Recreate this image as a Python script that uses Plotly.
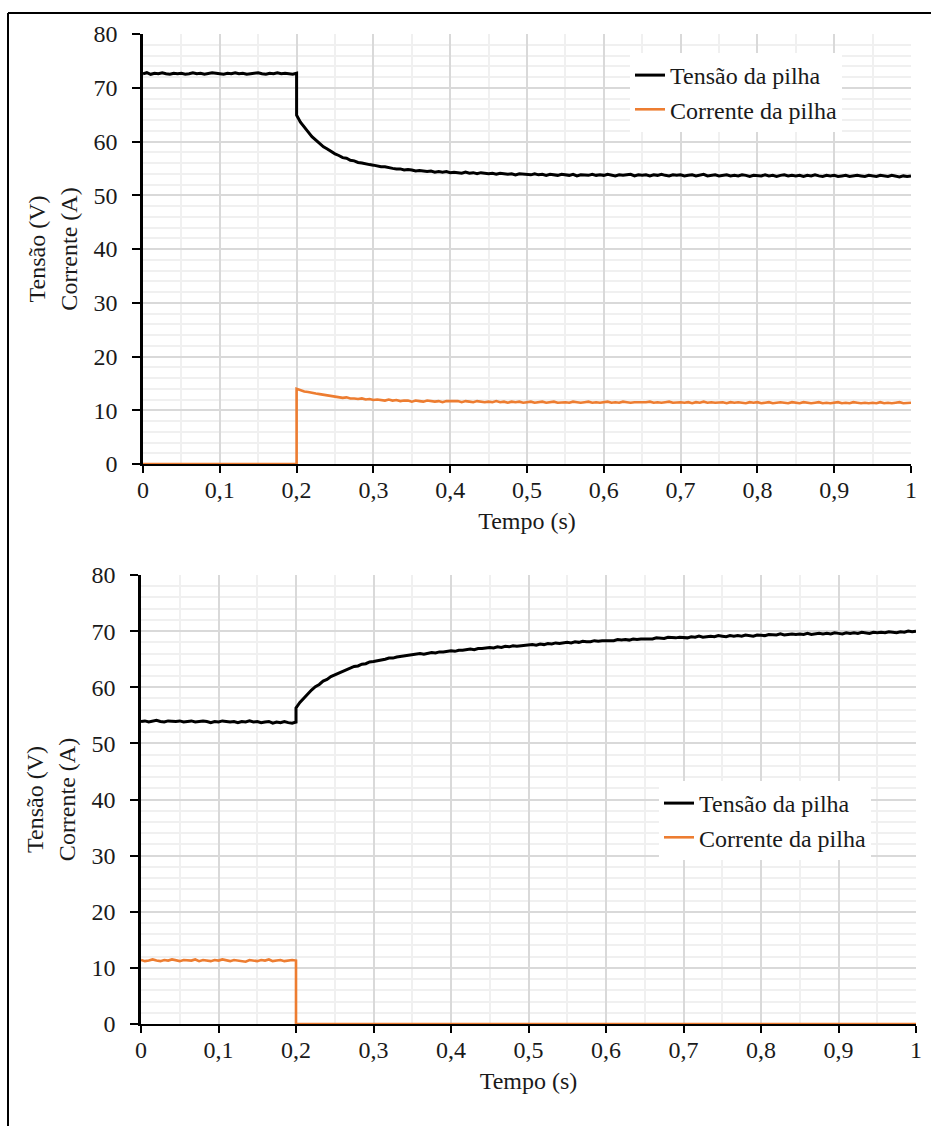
import numpy as np
import plotly.graph_objects as go

# Sampling step of the logged signals (s); the load step happens at t = 0.2 s
SAMPLE_STEP = 0.005
STEP_TIME = 0.2

# ---------------- Load connection (top panel) ----------------
tensao_on_pre = [
    72.6, 72.8, 72.5, 72.7, 72.6, 72.8, 72.6, 72.5, 72.7, 72.6,
    72.7, 72.5, 72.6, 72.8, 72.6, 72.7, 72.5, 72.6, 72.8, 72.7,
    72.6, 72.5, 72.7, 72.6, 72.8, 72.6, 72.7, 72.5, 72.6, 72.7,
    72.8, 72.6, 72.5, 72.7, 72.6, 72.8, 72.6, 72.7, 72.6, 72.5,
    72.7,
]
tensao_on_post = [
    64.9, 63.6, 62.6, 61.8, 60.9, 60.3, 59.6, 59.0, 58.6, 58.1,
    57.7, 57.4, 57.0, 56.9, 56.5, 56.4, 56.1, 56.0, 55.8, 55.7,
    55.6, 55.4, 55.3, 55.3, 55.1, 55.0, 54.9, 54.9, 54.7, 54.8,
    54.7, 54.5, 54.6, 54.5, 54.4, 54.5, 54.3, 54.4, 54.3, 54.4,
    54.2, 54.3, 54.2, 54.1, 54.3, 54.1, 54.2, 54.0, 54.2, 54.1,
    54.0, 54.1, 53.9, 54.1, 54.0, 53.9, 54.0, 53.8, 54.0, 53.9,
    53.9, 53.8, 54.0, 53.8, 53.9, 53.7, 53.9, 53.8, 53.7, 53.9,
    53.8, 53.7, 53.9, 53.6, 53.8, 53.8, 53.7, 53.9, 53.7, 53.8,
    53.7, 53.9, 53.8, 53.6, 53.8, 53.7, 53.8, 53.9, 53.6, 53.8,
    53.7, 53.8, 53.6, 53.8, 53.7, 53.9, 53.7, 53.6, 53.8, 53.7,
    53.8, 53.6, 53.7, 53.8, 53.6, 53.7, 53.9, 53.6, 53.7, 53.8,
    53.6, 53.7, 53.8, 53.6, 53.7, 53.6, 53.8, 53.7, 53.5, 53.7,
    53.7, 53.6, 53.8, 53.6, 53.7, 53.5, 53.7, 53.8, 53.6, 53.7,
    53.6, 53.7, 53.5, 53.7, 53.6, 53.8, 53.6, 53.5, 53.7, 53.6,
    53.7, 53.5, 53.6, 53.7, 53.5, 53.6, 53.7, 53.6, 53.5, 53.7,
    53.6, 53.5, 53.7, 53.6, 53.5, 53.7, 53.6, 53.4, 53.6, 53.5,
    53.6,
]
corrente_on_pre = [0.0] * 41
corrente_on_post = [
    14.0, 13.7, 13.5, 13.4, 13.2, 13.1, 13.0, 12.9, 12.8, 12.7,
    12.5, 12.5, 12.3, 12.4, 12.2, 12.2, 12.1, 12.2, 12.0, 12.1,
    11.9, 12.0, 11.9, 11.8, 12.0, 11.8, 11.9, 11.7, 11.8, 11.8,
    11.6, 11.8, 11.7, 11.6, 11.8, 11.7, 11.6, 11.7, 11.5, 11.7,
    11.7, 11.6, 11.7, 11.5, 11.7, 11.6, 11.5, 11.7, 11.6, 11.5,
    11.6, 11.5, 11.7, 11.5, 11.6, 11.4, 11.6, 11.5, 11.6, 11.4,
    11.5, 11.6, 11.4, 11.5, 11.6, 11.4, 11.5, 11.6, 11.4, 11.5,
    11.5, 11.4, 11.6, 11.5, 11.4, 11.5, 11.6, 11.4, 11.5, 11.4,
    11.5, 11.6, 11.4, 11.5, 11.4, 11.6, 11.5, 11.4, 11.5, 11.5,
    11.4, 11.5, 11.6, 11.4, 11.5, 11.4, 11.5, 11.6, 11.4, 11.5,
    11.5, 11.4, 11.5, 11.3, 11.5, 11.4, 11.6, 11.4, 11.5, 11.4,
    11.4, 11.5, 11.3, 11.5, 11.4, 11.5, 11.4, 11.3, 11.5, 11.4,
    11.5, 11.3, 11.4, 11.5, 11.3, 11.4, 11.5, 11.4, 11.3, 11.5,
    11.4, 11.3, 11.5, 11.4, 11.3, 11.4, 11.5, 11.3, 11.4, 11.3,
    11.4, 11.5, 11.3, 11.4, 11.3, 11.5, 11.4, 11.3, 11.4, 11.3,
    11.4, 11.3, 11.5, 11.3, 11.4, 11.3, 11.4, 11.5, 11.3, 11.4,
    11.4,
]

# ---------------- Load disconnection (bottom panel) ----------------
tensao_off_pre = [
    53.9, 54.0, 53.8, 53.9, 54.1, 53.9, 53.8, 54.0, 53.9, 53.9,
    54.0, 53.8, 53.9, 54.0, 53.8, 53.9, 54.0, 53.9, 53.7, 53.9,
    53.8, 54.0, 53.9, 53.8, 53.9, 53.7, 53.9, 53.8, 54.0, 53.8,
    53.9, 53.7, 53.8, 53.9, 53.6, 53.8, 53.7, 53.9, 53.7, 53.6,
    53.8,
]
tensao_off_post = [
    56.3, 57.3, 58.1, 58.9, 59.5, 60.1, 60.5, 61.1, 61.4, 61.9,
    62.2, 62.6, 62.8, 63.2, 63.4, 63.7, 63.8, 64.1, 64.2, 64.5,
    64.6, 64.7, 64.9, 65.0, 65.2, 65.2, 65.4, 65.5, 65.6, 65.7,
    65.8, 65.8, 66.0, 65.9, 66.1, 66.2, 66.1, 66.3, 66.3, 66.4,
    66.5, 66.4, 66.6, 66.6, 66.7, 66.8, 66.7, 66.9, 66.9, 67.0,
    67.1, 67.0, 67.2, 67.1, 67.3, 67.2, 67.4, 67.3, 67.4, 67.5,
    67.5, 67.6, 67.5, 67.7, 67.6, 67.8, 67.7, 67.9, 67.8, 67.9,
    68.0, 67.9, 68.1, 68.0, 68.2, 68.1, 68.1, 68.3, 68.2, 68.3,
    68.3, 68.4, 68.3, 68.5, 68.4, 68.5, 68.4, 68.6, 68.5, 68.6,
    68.6, 68.7, 68.6, 68.8, 68.7, 68.7, 68.9, 68.8, 68.8, 68.9,
    68.9, 68.8, 69.0, 68.9, 69.1, 68.9, 69.0, 69.1, 69.0, 69.2,
    69.1, 69.0, 69.2, 69.1, 69.2, 69.1, 69.3, 69.2, 69.1, 69.3,
    69.3, 69.2, 69.4, 69.3, 69.3, 69.5, 69.3, 69.4, 69.5, 69.4,
    69.5, 69.4, 69.6, 69.4, 69.5, 69.6, 69.5, 69.6, 69.5, 69.7,
    69.6, 69.5, 69.7, 69.6, 69.7, 69.6, 69.8, 69.7, 69.6, 69.8,
    69.7, 69.8, 69.7, 69.9, 69.8, 69.7, 69.9, 69.8, 70.0, 69.9,
    70.0,
]
corrente_off_pre = [
    11.4, 11.2, 11.3, 11.5, 11.3, 11.2, 11.4, 11.3, 11.5, 11.3,
    11.2, 11.4, 11.3, 11.3, 11.5, 11.2, 11.4, 11.3, 11.2, 11.4,
    11.3, 11.5, 11.3, 11.2, 11.4, 11.3, 11.3, 11.1, 11.4, 11.3,
    11.2, 11.4, 11.3, 11.5, 11.2, 11.3, 11.4, 11.2, 11.3, 11.4,
    11.3,
]
corrente_off_post = [0.0] * 161

x_ticks = [0, 0.1, 0.2, 0.3, 0.4, 0.5, 0.6, 0.7, 0.8, 0.9, 1]
x_tick_labels = ["0", "0,1", "0,2", "0,3", "0,4", "0,5", "0,6", "0,7", "0,8", "0,9", "1"]
y_ticks = [0, 10, 20, 30, 40, 50, 60, 70, 80]

SERIES_NAMES = ["Tensão da pilha", "Corrente da pilha"]
COLOR_V = "#000000"
COLOR_I = "#ED7D31"
FONT = "'Liberation Serif', 'Times New Roman', Tinos, Times, serif"
TEXT_COLOR = "#1a1a1a"


def time_axis(pre, post):
    """Sample instants for a record split at the step (0.2 s appears twice)."""
    t_pre = np.round(np.arange(len(pre)) * SAMPLE_STEP, 4)
    t_post = np.round(STEP_TIME + np.arange(len(post)) * SAMPLE_STEP, 4)
    return np.concatenate([t_pre, t_post])


W, H = 931, 1126
fig = go.Figure()

panels = [
    # (voltage pre/post, current pre/post, x-axis id, y-axis id, legend id)
    (tensao_on_pre, tensao_on_post, corrente_on_pre, corrente_on_post, "x", "y", "legend"),
    (tensao_off_pre, tensao_off_post, corrente_off_pre, corrente_off_post, "x2", "y2", "legend2"),
]
for v_pre, v_post, i_pre, i_post, xa, ya, lg in panels:
    t_v = time_axis(v_pre, v_post)
    t_i = time_axis(i_pre, i_post)
    fig.add_trace(go.Scatter(
        x=t_v, y=v_pre + v_post, mode="lines", name=SERIES_NAMES[0],
        line=dict(color=COLOR_V, width=3), xaxis=xa, yaxis=ya, legend=lg,
    ))
    fig.add_trace(go.Scatter(
        x=t_i, y=i_pre + i_post, mode="lines", name=SERIES_NAMES[1],
        line=dict(color=COLOR_I, width=2.6), xaxis=xa, yaxis=ya, legend=lg,
    ))

tick_font = dict(family=FONT, size=24, color=TEXT_COLOR)
title_font = dict(family=FONT, size=24, color=TEXT_COLOR)


def x_axis(domain, anchor):
    return dict(
        domain=domain, anchor=anchor, range=[0, 1],
        tickmode="array", tickvals=x_ticks, ticktext=x_tick_labels,
        ticks="outside", ticklen=7, tickwidth=2, tickcolor="#000000",
        showline=True, linecolor="#000000", linewidth=2,
        showgrid=True, gridcolor="#d9d9d9", gridwidth=1.5,
        minor=dict(dtick=0.05, showgrid=True, gridcolor="#f0f0f0", gridwidth=1.5),
        zeroline=False, tickfont=tick_font, layer="below traces",
        ticklabelstandoff=-4,
        title=dict(text="Tempo (s)", font=title_font, standoff=10),
        automargin=False, fixedrange=True,
    )


def y_axis(domain, anchor):
    return dict(
        domain=domain, anchor=anchor, range=[0, 80],
        tickmode="array", tickvals=y_ticks,
        ticks="outside", ticklen=8, tickwidth=2, tickcolor="#000000",
        showline=True, linecolor="#000000", linewidth=2.5,
        showgrid=True, gridcolor="#d9d9d9", gridwidth=1.5,
        minor=dict(dtick=2, showgrid=True, gridcolor="#f0f0f0", gridwidth=1.5),
        zeroline=False, tickfont=tick_font, layer="below traces",
        ticklabelstandoff=10,
        title=dict(text="Tensão (V)<br>Corrente (A)", font=title_font, standoff=10),
        automargin=False, fixedrange=True,
    )


legend_style = dict(
    bgcolor="#ffffff", borderwidth=0,
    font=dict(family=FONT, size=24, color=TEXT_COLOR),
    xanchor="left", yanchor="top", tracegroupgap=0,
)


def px_box(x0, y0, x1, y1):
    """White panel behind a legend, given in figure pixels."""
    return dict(type="rect", xref="paper", yref="paper", layer="between",
                x0=x0 / W, x1=x1 / W, y0=1 - y1 / H, y1=1 - y0 / H,
                fillcolor="#ffffff", line=dict(width=0))


fig.update_layout(
    width=W, height=H,
    margin=dict(l=0, r=0, t=0, b=0, pad=0, autoexpand=False),
    paper_bgcolor="#ffffff", plot_bgcolor="#ffffff",
    showlegend=True,
    xaxis=x_axis([143 / W, 911 / W], "y"),
    yaxis=y_axis([1 - 464 / H, 1 - 34 / H], "x"),
    xaxis2=x_axis([141 / W, 916 / W], "y2"),
    yaxis2=y_axis([1 - 1024 / H, 1 - 575 / H], "x2"),
    legend=dict(x=630 / W, y=1 - 53 / H, **legend_style),
    legend2=dict(x=659 / W, y=1 - 781 / H, **legend_style),
    shapes=[
        px_box(598, 57, 848, 133),
        px_box(625, 785, 912, 862),
        dict(type="line", xref="paper", yref="paper",
             x0=8 / W, x1=1, y0=1 - 13 / H, y1=1 - 13 / H,
             line=dict(color="#000000", width=2)),
        dict(type="line", xref="paper", yref="paper",
             x0=8 / W, x1=8 / W, y0=0, y1=1 - 13 / H,
             line=dict(color="#000000", width=2)),
    ],
)

fig.write_html("out.html")
